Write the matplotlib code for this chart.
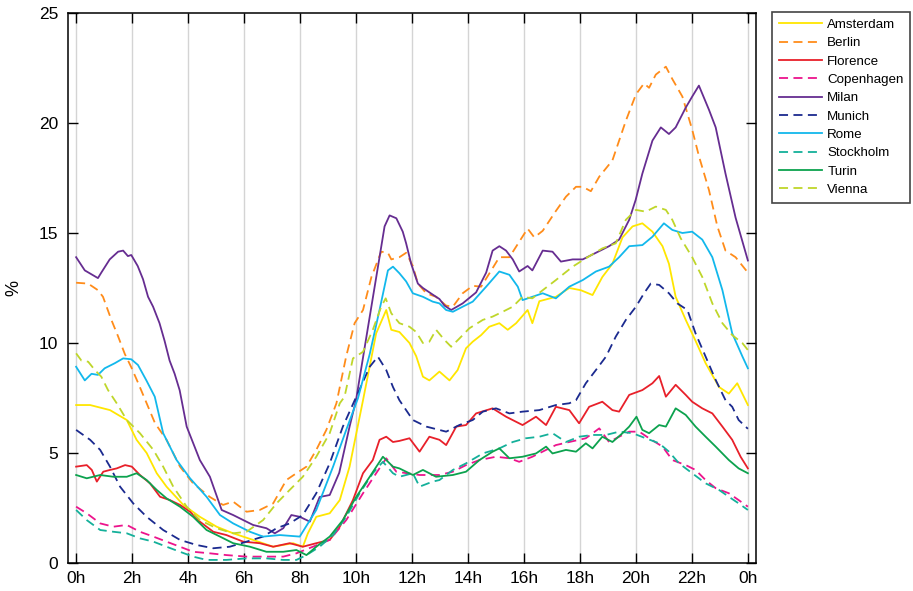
import numpy as np
import matplotlib
matplotlib.use("Agg")
import matplotlib.pyplot as plt

plt.rcParams['font.family'] = ['Liberation Sans', 'DejaVu Sans']

# hours / values, one pair of lists per city
ams_h = [0, 0.5, 1.21, 1.81, 2.16, 2.52, 2.88, 3.23, 3.83, 4.42, 5.02, 5.61, 6.32, 7.04, 7.75, 8.1, 8.28,
         8.58, 9.06, 9.42, 9.77, 10.25, 10.72, 11.08, 11.26, 11.55, 11.91, 12.15, 12.39, 12.62, 12.98, 13.34,
         13.63, 13.93, 14.17, 14.47, 14.76, 15.12, 15.42, 15.72, 16.13, 16.3, 16.55, 17.14, 17.62, 18.03,
         18.45, 18.8, 19.16, 19.52, 19.88, 20.23, 20.59, 20.95, 21.18, 21.42, 21.78, 22.13, 22.49, 22.97,
         23.32, 23.62, 24]
ams_v = [7.18, 7.18, 6.95, 6.5, 5.6, 5.0, 4.08, 3.47, 2.64, 2.1, 1.65, 1.35, 1.05, 0.74, 0.9, 0.74, 1.35,
         2.1, 2.26, 2.86, 4.38, 7.4, 10.44, 11.5, 10.6, 10.5, 10.0, 9.4, 8.47, 8.3, 8.7, 8.3,
         8.77, 9.76, 10.06, 10.36, 10.74, 10.9, 10.6, 10.9, 11.5, 10.9, 11.9, 12.1, 12.5, 12.4,
         12.18, 13.0, 13.6, 14.8, 15.3, 15.44, 15.06, 14.4, 13.6, 12.1, 11.05, 10.1, 9.08, 8.0,
         7.7, 8.17, 7.18]

ber_h = [0, 0.43, 0.78, 0.96, 1.26, 1.5, 1.74, 1.97, 2.21, 2.52, 2.82, 3.23, 3.71, 4.18, 4.78, 5.25, 5.61,
         6.09, 6.56, 7.04, 7.51, 7.87, 8.23, 8.58, 8.94, 9.3, 9.65, 9.95, 10.25, 10.55, 10.9, 11.14, 11.26,
         11.55, 11.79, 12.03, 12.21, 12.51, 12.86, 13.22, 13.46, 13.81, 14.17, 14.47, 14.88, 15.12, 15.48,
         15.78, 16.13, 16.37, 16.67, 17.14, 17.5, 17.86, 18.1, 18.39, 18.69, 19.16, 19.64, 20.0, 20.29,
         20.47, 20.71, 21.07, 21.3, 21.66, 22.01, 22.25, 22.61, 22.91, 23.2, 23.56, 24]
ber_v = [12.74, 12.7, 12.4, 12.1, 11.05, 10.3, 9.5, 8.9, 8.2, 7.26, 6.35, 5.6, 4.38, 3.62, 3.0, 2.64, 2.79,
         2.33, 2.41, 2.71, 3.77, 4.08, 4.38, 5.14, 6.05, 7.26, 9.4, 10.9, 11.5, 13.0, 14.15, 14.1, 13.8,
         13.9, 14.1, 13.5, 12.7, 12.26, 12.1, 11.7, 11.65, 12.26, 12.6, 12.56, 13.4, 13.9, 13.9,
         14.5, 15.2, 14.8, 15.1, 16.0, 16.65, 17.1, 17.1, 16.9, 17.56, 18.3, 20.1, 21.3, 21.8,
         21.6, 22.2, 22.56, 22.0, 21.2, 19.7, 18.5, 16.95, 15.3, 14.2, 13.9, 13.2]

flo_h = [0, 0.38, 0.56, 0.74, 0.97, 1.21, 1.45, 1.75, 1.99, 2.28, 2.64, 3.0, 3.35, 3.71, 4.07, 4.42, 4.9,
         5.37, 5.97, 6.56, 7.04, 7.63, 8.1, 8.58, 9.06, 9.42, 9.89, 10.25, 10.6, 10.84, 11.08, 11.32, 11.55,
         11.91, 12.27, 12.62, 12.98, 13.22, 13.58, 13.93, 14.29, 14.88, 15.36, 15.95, 16.43, 16.79, 17.14,
         17.62, 17.97, 18.33, 18.8, 19.16, 19.4, 19.76, 20.23, 20.59, 20.83, 21.07, 21.42, 21.78, 22.01,
         22.37, 22.73, 23.09, 23.44, 23.74, 24]
flo_v = [4.38, 4.45, 4.23, 3.7, 4.15, 4.23, 4.3, 4.45, 4.38, 4.0, 3.62, 3.01, 2.86, 2.64, 2.33, 1.88, 1.42,
         1.27, 0.97, 0.9, 0.74, 0.9, 0.74, 0.9, 1.05, 1.65, 2.86, 4.08, 4.68, 5.6, 5.74, 5.5, 5.55,
         5.67, 5.06, 5.74, 5.6, 5.36, 6.2, 6.27, 6.8, 7.03, 6.65, 6.27, 6.65, 6.27, 7.1,
         6.95, 6.35, 7.1, 7.33, 6.95, 6.88, 7.64, 7.86, 8.17, 8.5, 7.56, 8.1, 7.64, 7.33,
         7.03, 6.8, 6.2, 5.6, 4.83, 4.3]

cop_h = [0, 0.38, 0.86, 1.33, 1.81, 2.28, 2.76, 3.23, 3.71, 4.18, 4.78, 5.37, 6.09, 6.8, 7.4, 7.87, 8.46,
         9.06, 9.65, 10.25, 10.72, 11.08, 11.44, 12.27, 12.98, 13.46, 13.93, 14.41, 15.0, 15.48, 15.83,
         16.3, 16.79, 17.14, 17.62, 18.21, 18.69, 19.04, 19.4, 19.76, 20.12, 20.47, 20.95, 21.3, 21.78,
         22.13, 22.49, 22.85, 23.32, 23.67, 24]
cop_v = [2.56, 2.26, 1.8, 1.65, 1.73, 1.42, 1.2, 0.97, 0.74, 0.51, 0.44, 0.36, 0.29, 0.29, 0.29, 0.44, 0.74,
         1.05, 1.95, 3.17, 4.08, 4.76, 4.15, 4.0, 4.0, 4.15, 4.45, 4.68, 4.83, 4.76, 4.6,
         4.83, 5.14, 5.36, 5.5, 5.67, 6.12, 5.5, 5.74, 5.97, 5.97, 5.67, 5.29, 4.68, 4.45,
         4.23, 3.77, 3.4, 3.17, 2.86, 2.56]

mil_h = [0, 0.31, 0.78, 0.9, 1.2, 1.5, 1.68, 1.85, 1.97, 2.2, 2.39, 2.57, 2.75, 2.98, 3.16, 3.34, 3.52,
         3.7, 3.95, 4.42, 4.78, 5.2, 5.61, 6.32, 6.8, 7.1, 7.4, 7.69, 7.99, 8.35, 8.7, 9.06, 9.4, 9.77,
         10.0, 10.49, 10.84, 11.02, 11.2, 11.44, 11.67, 11.79, 11.97, 12.21, 12.39, 12.74, 12.98, 13.16,
         13.4, 13.81, 14.29, 14.65, 14.88, 15.12, 15.36, 15.6, 15.83, 16.13, 16.3, 16.67, 17.02, 17.32,
         17.74, 18.1, 18.57, 19.04, 19.4, 19.76, 19.99, 20.23, 20.59, 20.89, 21.18, 21.42, 21.78, 22.01,
         22.25, 22.61, 22.85, 23.2, 23.56, 24]
mil_v = [13.9, 13.3, 12.95, 13.2, 13.8, 14.15, 14.2, 13.95, 14.0, 13.5, 12.9, 12.1, 11.65, 10.9, 10.1, 9.2, 8.6,
         7.85, 6.2, 4.68, 3.92, 2.41, 2.18, 1.73, 1.58, 1.35, 1.58, 2.18, 2.1, 1.88, 3.0, 3.09, 4.1, 6.2,
         7.4, 11.2, 13.9, 15.3, 15.8, 15.67, 15.06, 14.53, 13.6, 12.7, 12.5, 12.2, 12.0, 11.7,
         11.5, 11.8, 12.3, 13.2, 14.2, 14.4, 14.2, 13.8, 13.25, 13.5, 13.3, 14.2, 14.15, 13.7,
         13.8, 13.8, 14.1, 14.4, 14.7, 15.6, 16.5, 17.7, 19.2, 19.8, 19.5, 19.8, 20.7, 21.2,
         21.7, 20.6, 19.8, 17.7, 15.7, 13.75]

mun_h = [0, 0.5, 0.86, 1.21, 1.57, 2.04, 2.52, 3.11, 3.71, 4.3, 4.9, 5.49, 6.09, 6.68, 7.16, 7.63, 8.1,
         8.58, 9.06, 9.53, 10.01, 10.49, 10.78, 11.08, 11.32, 11.55, 12.03, 12.51, 13.22, 13.69, 14.17,
         14.53, 15.0, 15.48, 15.95, 16.55, 17.14, 17.62, 17.86, 18.21, 18.57, 18.93, 19.28, 19.64, 20.0,
         20.29, 20.53, 20.83, 21.18, 21.48, 21.84, 22.13, 22.49, 22.85, 23.2, 23.44, 23.67, 24]
mun_v = [6.05, 5.6, 5.14, 4.38, 3.47, 2.71, 2.1, 1.5, 1.05, 0.82, 0.67, 0.74, 0.97, 1.2, 1.58, 1.8, 2.18,
         3.17, 4.53, 6.2, 7.56, 8.92, 9.38, 8.77, 8.0, 7.4, 6.5, 6.2, 5.97, 6.27, 6.5,
         6.88, 7.03, 6.8, 6.88, 6.95, 7.18, 7.26, 7.4, 8.17, 8.77, 9.38, 10.29, 11.05, 11.65,
         12.26, 12.7, 12.64, 12.26, 11.8, 11.5, 10.44, 9.38, 8.32, 7.4, 7.1, 6.5, 6.1]

rom_h = [0, 0.31, 0.55, 0.78, 1.02, 1.38, 1.68, 1.97, 2.21, 2.51, 2.81, 3.11, 3.59, 4.07, 4.66, 5.14, 5.61,
         6.21, 6.68, 7.28, 7.99, 8.58, 9.18, 9.65, 10.07, 10.49, 10.84, 11.14, 11.32, 11.55, 11.79, 12.03,
         12.39, 12.74, 12.98, 13.22, 13.46, 13.81, 14.17, 14.65, 15.12, 15.48, 15.78, 15.95, 16.3, 16.67,
         17.14, 17.62, 18.1, 18.57, 19.04, 19.4, 19.76, 20.23, 20.59, 21.0, 21.3, 21.66, 22.01, 22.37,
         22.73, 23.09, 23.44, 23.8, 24]
rom_v = [8.92, 8.3, 8.6, 8.55, 8.85, 9.08, 9.3, 9.26, 9.0, 8.3, 7.56, 5.9, 4.68, 3.85, 3.01, 2.18, 1.8,
         1.42, 1.2, 1.27, 1.2, 2.41, 4.38, 6.05, 7.49, 9.5, 11.5, 13.3, 13.47, 13.17, 12.8, 12.26,
         12.1, 11.88, 11.8, 11.5, 11.42, 11.65, 11.88, 12.56, 13.25, 13.1, 12.56, 11.95, 12.1, 12.26,
         12.03, 12.56, 12.86, 13.25, 13.47, 13.9, 14.4, 14.45, 14.83, 15.44, 15.14, 15.0, 15.06, 14.7,
         13.9, 12.4, 10.44, 9.4, 8.85]

sto_h = [0, 0.38, 0.86, 1.33, 1.81, 2.28, 2.76, 3.23, 3.71, 4.18, 4.66, 5.37, 6.09, 6.8, 7.4, 7.87, 8.23,
         8.7, 9.18, 9.65, 10.13, 10.6, 10.96, 11.32, 11.55, 12.03, 12.27, 12.74, 12.98, 13.46, 13.93,
         14.53, 15.12, 15.6, 16.07, 16.55, 17.02, 17.5, 17.97, 18.45, 18.93, 19.4, 19.88, 20.35, 20.83,
         21.18, 21.54, 22.01, 22.49, 22.97, 23.32, 23.67, 24]
sto_v = [2.41, 1.95, 1.5, 1.42, 1.35, 1.12, 0.97, 0.74, 0.51, 0.29, 0.14, 0.14, 0.21, 0.21, 0.14, 0.14, 0.36,
         0.74, 1.27, 2.1, 3.17, 4.08, 4.6, 4.08, 3.92, 4.08, 3.47, 3.7, 3.77, 4.23, 4.53,
         4.98, 5.21, 5.5, 5.67, 5.74, 5.9, 5.5, 5.74, 5.82, 5.82, 5.97, 5.9, 5.67, 5.44,
         5.06, 4.53, 4.08, 3.62, 3.32, 3.01, 2.71, 2.41]

tur_h = [0, 0.38, 0.86, 1.33, 1.81, 2.16, 2.52, 2.88, 3.23, 3.71, 4.18, 4.66, 5.14, 5.61, 6.21, 6.8, 7.4,
         7.87, 8.23, 8.58, 9.06, 9.53, 10.01, 10.49, 10.96, 11.32, 11.55, 12.03, 12.39, 12.86, 13.46,
         13.93, 14.41, 14.88, 15.12, 15.48, 15.95, 16.43, 16.79, 17.02, 17.5, 17.86, 18.21, 18.45, 18.8,
         19.16, 19.52, 19.76, 20.02, 20.23, 20.47, 20.83, 21.07, 21.42, 21.78, 22.13, 22.49, 22.85, 23.32,
         23.67, 24]
tur_v = [4.0, 3.85, 4.0, 3.92, 3.92, 4.08, 3.77, 3.32, 2.94, 2.56, 2.1, 1.5, 1.2, 0.9, 0.74, 0.51, 0.51,
         0.59, 0.36, 0.74, 1.2, 1.95, 3.01, 3.92, 4.83, 4.38, 4.3, 4.0, 4.23, 3.92, 4.0,
         4.15, 4.68, 5.06, 5.21, 4.76, 4.83, 4.98, 5.29, 4.98, 5.14, 5.06, 5.44, 5.21, 5.74,
         5.5, 5.9, 6.2, 6.65, 6.05, 5.9, 6.27, 6.2, 7.03, 6.73, 6.2, 5.74, 5.29, 4.68,
         4.3, 4.08]

vie_h = [0, 0.19, 0.43, 0.67, 0.9, 1.14, 1.45, 1.81, 2.28, 2.76, 3.11, 3.47, 3.95, 4.42, 5.02, 5.61, 6.09,
         6.68, 7.16, 7.63, 8.1, 8.58, 9.06, 9.42, 9.59, 9.89, 10.25, 10.6, 10.9, 11.06, 11.26, 11.55,
         11.91, 12.15, 12.39, 12.62, 12.86, 13.16, 13.4, 13.69, 14.05, 14.53, 14.88, 15.24, 15.6, 15.95,
         16.3, 16.67, 17.14, 17.74, 18.21, 18.8, 19.28, 19.64, 20.0, 20.35, 20.71, 21.07, 21.3, 21.6,
         22.01, 22.37, 22.73, 23.09, 23.44, 23.8, 24]
vie_v = [9.53, 9.2, 9.15, 8.77, 8.47, 7.86, 7.26, 6.5, 5.9, 5.14, 4.38, 3.47, 2.56, 1.95, 1.58, 1.35, 1.42,
         1.95, 2.71, 3.32, 3.92, 4.83, 5.9, 7.26, 7.56, 9.3, 9.6, 10.6, 11.65, 12.03, 11.35, 10.9,
         10.74, 10.5, 10.0, 10.06, 10.6, 10.14, 9.83, 10.2, 10.67, 11.05, 11.2, 11.42, 11.65, 12.1,
         12.03, 12.4, 12.86, 13.47, 13.85, 14.3, 14.53, 15.6, 16.05, 15.97, 16.2, 16.05, 15.6, 14.76,
         13.9, 13.0, 11.8, 10.9, 10.36, 10.0, 9.68]

cities = ['Amsterdam', 'Berlin', 'Florence', 'Copenhagen', 'Milan',
          'Munich', 'Rome', 'Stockholm', 'Turin', 'Vienna']
hours = [ams_h, ber_h, flo_h, cop_h, mil_h, mun_h, rom_h, sto_h, tur_h, vie_h]
values = [ams_v, ber_v, flo_v, cop_v, mil_v, mun_v, rom_v, sto_v, tur_v, vie_v]
colors = ['#FFE600', '#FF8C1A', '#E8202A', '#EC148C', '#662D91',
          '#1B2A8F', '#12B8EC', '#14B09A', '#0CA24E', '#BFD62A']
dashed = [False, True, False, True, False, True, False, True, False, True]

fig = plt.figure(figsize=(9.13, 5.91), dpi=100)
ax = fig.add_axes([68/913, 28/591, 688/913, 550/591])

for i in range(len(cities)):
    ls = (0, (5, 3)) if dashed[i] else '-'
    ax.plot(hours[i], values[i], color=colors[i], lw=1.3, linestyle=ls, label=cities[i])

ax.set_xlim(-0.29, 24.29)
ax.set_ylim(0, 25)
ax.set_xticks(range(0, 25, 2))
ax.set_xticklabels([f'{h % 24}h' for h in range(0, 25, 2)])
ax.set_yticks(range(0, 26, 5))
ax.tick_params(direction='in', length=7, width=1, labelsize=12.5, top=True, right=True)
ax.tick_params(axis='x', pad=6)
ax.tick_params(axis='y', pad=7)
ax.xaxis.grid(True, color='#d4d4d4', lw=1)
ax.set_axisbelow(True)
for s in ax.spines.values():
    s.set_linewidth(1.1)
ax.set_ylabel('%', fontsize=13, labelpad=12)

leg = fig.legend(loc='upper left', bbox_to_anchor=(772/913, 1 - 12/591), fontsize=9.6,
                 handlelength=3.25, labelspacing=0.45, borderaxespad=0, fancybox=False,
                 edgecolor='#444444', framealpha=1, borderpad=0.5, handletextpad=0.4)
leg.get_frame().set_linewidth(1.2)

fig.savefig('out.png', dpi=100)
